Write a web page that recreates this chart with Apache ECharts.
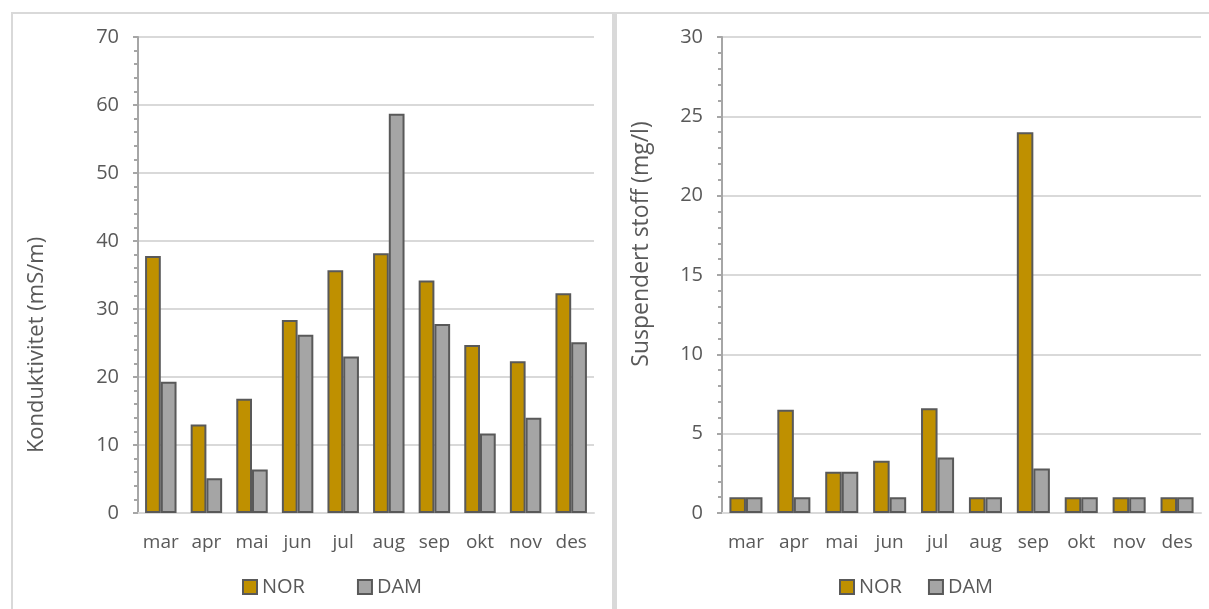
<!DOCTYPE html>
<html>
<head>
<meta charset="utf-8">
<script src="https://cdn.jsdelivr.net/npm/echarts@6/dist/echarts.min.js"></script>
<style>
  html, body { margin: 0; padding: 0; background: #fff; }
  #chart { width: 1209px; height: 609px; }
</style>
</head>
<body>
<div id="chart"></div>
<script>
// Monthly measurements at two stations
const months = ['mar', 'apr', 'mai', 'jun', 'jul', 'aug', 'sep', 'okt', 'nov', 'des'];

// Conductivity (mS/m)
const kondNOR = [37.8, 13.0, 16.8, 28.4, 35.7, 38.2, 34.2, 24.7, 22.3, 32.3];
const kondDAM = [19.3, 5.1, 6.4, 26.2, 23.0, 58.7, 27.8, 11.7, 14.0, 25.1];

// Suspended solids (mg/l)
const ssNOR = [1.0, 6.5, 2.6, 3.3, 6.6, 1.0, 24.0, 1.0, 1.0, 1.0];
const ssDAM = [1.0, 1.0, 2.6, 1.0, 3.5, 1.0, 2.8, 1.0, 1.0, 1.0];

const leftTitle = 'Konduktivitet (mS/m)';
const rightTitle = 'Suspendert stoff (mg/l)';

const FONT = '"Open Sans", sans-serif';
const TXT = '#595959';
const GRID = '#d9d9d9';
const AXIS = '#a6a6a6';
const NOR_COLOR = '#bf9000';
const DAM_COLOR = '#a5a5a5';
const EDGE = '#595959';

function xAx(idx) {
  return {
    type: 'category', gridIndex: idx, data: months,
    axisLine: { lineStyle: { color: GRID, width: 2 } },
    axisTick: { show: false },
    axisLabel: { color: TXT, fontSize: 19, fontFamily: FONT, margin: 20, interval: 0, hideOverlap: false }
  };
}
function yAx(idx, max, interval) {
  return {
    type: 'value', gridIndex: idx, min: 0, max: max, interval: interval,
    axisLine: { show: true, lineStyle: { color: AXIS, width: 2 } },
    axisTick: { show: true, length: 5, inside: false, lineStyle: { color: AXIS, width: 2 } },
    minorTick: { show: true, splitNumber: 5, length: 4, lineStyle: { color: AXIS, width: 2 } },
    splitLine: { lineStyle: { color: GRID, width: 2 } },
    axisLabel: { color: TXT, fontSize: 20, fontFamily: FONT, margin: 19 }
  };
}
function bar(name, data, color, idx) {
  return {
    name: name, type: 'bar', data: data,
    xAxisIndex: idx, yAxisIndex: idx,
    barGap: '0%', barCategoryGap: '31%',
    itemStyle: { color: color, borderColor: EDGE, borderWidth: 2 },
    emphasis: { disabled: true }
  };
}
function legend(left, gap) {
  return {
    left: left, top: 572, itemWidth: 14, itemHeight: 14, itemGap: gap,
    icon: 'rect',
    textStyle: { color: TXT, fontSize: 20, fontFamily: FONT },
    data: ['NOR', 'DAM']
  };
}

const chart = echarts.init(document.getElementById('chart'), null, { renderer: 'canvas' });
chart.setOption({
  animation: false,
  backgroundColor: '#ffffff',
  grid: [
    { left: 138, right: 615, top: 37, bottom: 96 },
    { left: 722, right: 8, top: 37, bottom: 96 }
  ],
  xAxis: [xAx(0), xAx(1)],
  yAxis: [yAx(0, 70, 10), yAx(1, 30, 5)],
  legend: [legend(237, 52), legend(834, 26)],
  series: [
    bar('NOR', kondNOR, NOR_COLOR, 0),
    bar('DAM', kondDAM, DAM_COLOR, 0),
    bar('NOR', ssNOR, NOR_COLOR, 1),
    bar('DAM', ssDAM, DAM_COLOR, 1)
  ],
  graphic: [
    // panel frames
    { type: 'rect', silent: true, shape: { x: 11, y: 12, width: 1198, height: 2 }, style: { fill: GRID } },
    { type: 'rect', silent: true, shape: { x: 11, y: 12, width: 2, height: 597 }, style: { fill: GRID } },
    { type: 'rect', silent: true, shape: { x: 612, y: 12, width: 5, height: 597 }, style: { fill: GRID } },
    // axis titles
    {
      type: 'text', silent: true, x: 37, y: 345, rotation: Math.PI / 2,
      style: { text: leftTitle, fill: TXT, fontSize: 22, fontFamily: FONT, align: 'center', verticalAlign: 'middle' }
    },
    {
      type: 'text', silent: true, x: 641, y: 244, rotation: Math.PI / 2,
      style: { text: rightTitle, fill: TXT, fontSize: 23, fontFamily: FONT, align: 'center', verticalAlign: 'middle' }
    }
  ]
});
</script>
</body>
</html>
